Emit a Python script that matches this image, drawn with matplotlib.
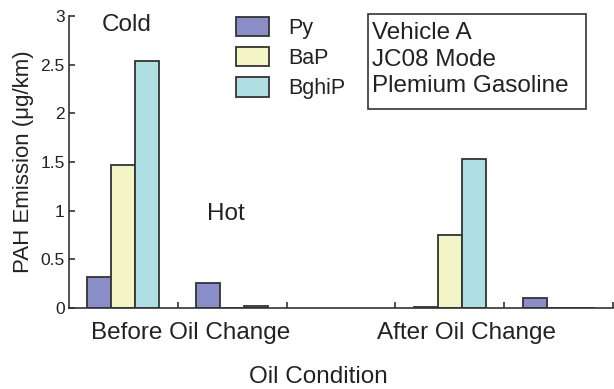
"""PAH emission before and after an oil change, cold vs hot start."""
import matplotlib.pyplot as plt
from matplotlib.patches import Rectangle

plt.rcParams["font.family"] = ["Liberation Sans", "DejaVu Sans"]
OUTPUT_PATH = "out.png"

# bar groups, left to right: cold/hot before the oil change, cold/hot after
conditions = ["Before Oil Change", "After Oil Change"]
modes = ["Cold", "Hot"]
species = ["Py", "BaP", "BghiP"]
py_vals = [0.32, 0.255, 0.01, 0.107]
bap_vals = [1.47, 0.005, 0.755, 0.005]
bghip_vals = [2.54, 0.025, 1.535, 0.005]

COLORS = ["#8a8ec8", "#f3f5c6", "#addfe3"]
EDGE = "#333333"
TEXT = "#222222"

W, H = 614, 389


def build():
    fig = plt.figure(figsize=(W / 100, H / 100), dpi=100)
    ax = fig.add_axes([69 / W, 1 - 308 / H, 544 / W, 292 / H])

    # five slots on the x axis, the middle one left empty between the conditions
    centers = [0.5, 1.5, 3.5, 4.5]
    width = 0.22
    series = [py_vals, bap_vals, bghip_vals]
    for k, (name, vals) in enumerate(zip(species, series)):
        xs = [c + (k - 1) * width for c in centers]
        ax.bar(xs, vals, width=width, color=COLORS[k], edgecolor=EDGE,
               linewidth=1.3, label=name, zorder=2)

    ax.set_xlim(0, 5)
    ax.set_ylim(0, 3)
    ax.set_xticks([1, 2, 3, 4, 5])
    ax.set_xticklabels([])
    ax.set_yticks([0, 0.5, 1, 1.5, 2, 2.5, 3])
    ax.set_yticklabels(["0", "0.5", "1", "1.5", "2", "2.5", "3"])
    ax.tick_params(axis="both", direction="in", length=4, width=1.2,
                   color=EDGE, labelsize=12.5, labelcolor=TEXT, pad=3)
    for side in ("top", "right"):
        ax.spines[side].set_visible(False)
    for side in ("left", "bottom"):
        ax.spines[side].set_color(EDGE)
        ax.spines[side].set_linewidth(1.2)

    ax.set_ylabel("PAH Emission (μg/km)", fontsize=16, color=TEXT, labelpad=5)

    # condition labels under each half of the axis
    for cond, x in zip(conditions, [1.12, 3.65]):
        ax.text(x, -0.26, cond, ha="center", va="center", fontsize=17.5,
                color=TEXT)
    fig.text(318 / W, 1 - 377 / H, "Oil Condition", ha="center",
             va="center", fontsize=17.5, color=TEXT)

    ax.text(0.53, 2.91, modes[0], ha="center", va="center", fontsize=17.5,
            color=TEXT)
    ax.text(1.44, 0.97, modes[1], ha="center", va="center", fontsize=17.5,
            color=TEXT)

    ax.legend(loc="upper left", bbox_to_anchor=(236 / W, 1 - 17 / H),
              bbox_transform=fig.transFigure, frameon=False, fontsize=15.5,
              handlelength=1.55, handleheight=1.0, handletextpad=0.9,
              labelspacing=0.38, borderpad=0, borderaxespad=0,
              labelcolor=TEXT)

    # info box, top right
    fig.patches.append(Rectangle((368 / W, 1 - 109 / H), 218 / W, 95 / H,
                                 transform=fig.transFigure, fill=False,
                                 edgecolor=EDGE, linewidth=1.2))
    for i, line in enumerate(["Vehicle A", "JC08 Mode", "Plemium Gasoline"]):
        fig.text(372 / W, 1 - (33 + i * 26.5) / H, line, ha="left",
                 va="center", fontsize=17.5, color=TEXT)

    fig.savefig(OUTPUT_PATH, dpi=100)
    plt.close(fig)
    print(f"Saved: {OUTPUT_PATH}")


if __name__ == "__main__":
    build()
